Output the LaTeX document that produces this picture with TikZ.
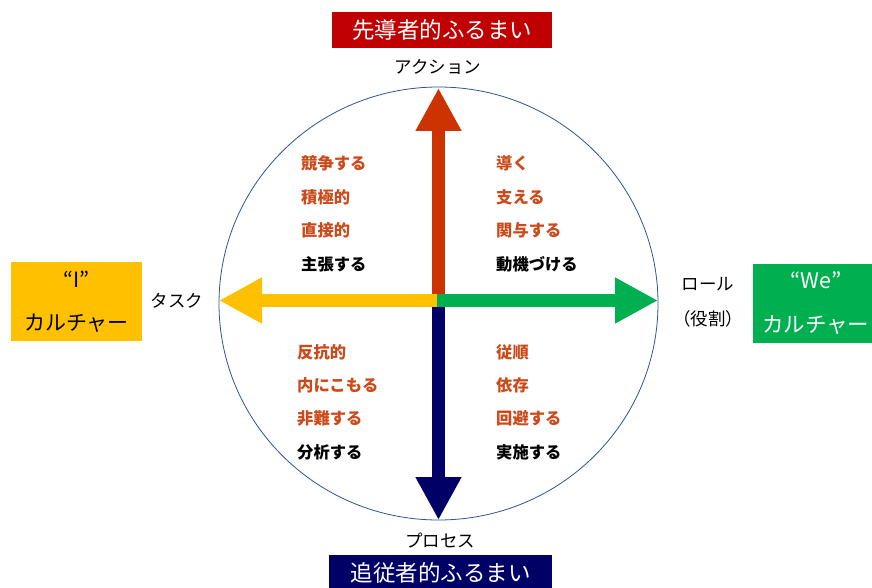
\documentclass[tikz,border=0pt]{standalone}
\usepackage{fontspec}
\setmainfont{Noto Sans CJK JP}
\usetikzlibrary{arrows.meta}
\definecolor{cred}{HTML}{C00000}
\definecolor{carrowred}{HTML}{CC3300}
\definecolor{cnavy}{HTML}{000066}
\definecolor{cyellow}{HTML}{FFC000}
\definecolor{cgreen}{HTML}{00B050}
\definecolor{ctxt}{HTML}{CC4A1A}
\definecolor{ccircle}{HTML}{2F5597}
\begin{document}
\begin{tikzpicture}[x=1pt,y=-1pt,
  bigarrow/.style={line width=13pt,-{Triangle[length=43pt,width=43pt]}},
  lab/.style={font=\fontsize{17.5}{20}\selectfont,text=black,inner sep=0pt},
  item/.style={font=\bfseries\fontsize{16.3}{18}\selectfont,anchor=west,inner sep=0pt},
  hitem/.style={item,text=ctxt},
  kitem/.style={item,text=black},
  titlebox/.style={minimum height=36pt,inner sep=0pt,text=white,font=\fontsize{22.5}{24}\selectfont},
  sidebox/.style={minimum height=79pt,inner sep=0pt,align=center,font=\fontsize{21}{43}\selectfont}]
\useasboundingbox (0,0) rectangle (872,588);
\fill[white] (0,0) rectangle (872,588);
\coordinate (c) at (438.5,300.5);
\draw[ccircle,line width=0.8pt] (438.5,303.5) ellipse [x radius=219.5pt,y radius=216.5pt];
\coordinate (tl) at (219,300.5);
\coordinate (tr) at (658,300.5);
\coordinate (tt) at (438.5,88);
\coordinate (tb) at (438.5,520);
\draw[bigarrow,carrowred] ([yshift=-2pt]c) -- (tt);
\draw[bigarrow,cnavy] ([yshift=2pt]c) -- (tb);
\draw[bigarrow,cyellow] ([xshift=-1.5pt]c) -- (tl);
\draw[bigarrow,cgreen] ([xshift=-1.5pt]c) -- (tr);
% title boxes
\node[titlebox,fill=cred,minimum width=220pt] (top) at (442,30) {先導者的ふるまい};
\node[titlebox,fill=cnavy,minimum width=223pt,anchor=north] (bot) at (440.5,555) {追従者的ふるまい};
\node[lab] (act) at (438,67) {アクション};
\node[lab] (proc) at (440,541) {プロセス};
\node[lab] (task) at (177,301) {タスク};
\node[lab] (role) at (708,284) {ロール};
\node[lab] (role2) at (708,319) {（役割）};
\node[sidebox,fill=cyellow,minimum width=131pt] (ibox) at (76.5,301.5) {“I”\\カルチャー};
\node[sidebox,fill=cgreen,minimum width=125pt,text=white,anchor=west,font=\fontsize{21.5}{44}\selectfont] (webox) at (753,303.5) {“We”\\カルチャー};
% items
\node[hitem] (a1) at (301,163) {競争する};
\node[hitem] (a2) at (301,197) {積極的};
\node[hitem] (a3) at (301,230) {直接的};
\node[kitem] (a4) at (301,264) {主張する};
\node[hitem] (b1) at (496,163) {導く};
\node[hitem] (b2) at (496,197) {支える};
\node[hitem] (b3) at (496,230) {関与する};
\node[kitem] (b4) at (496,264) {動機づける};
\node[hitem] (c1) at (297,352) {反抗的};
\node[hitem] (c2) at (297,385) {内にこもる};
\node[hitem] (c3) at (297,418) {非難する};
\node[kitem] (c4) at (297,452) {分析する};
\node[hitem] (d1) at (496,352) {従順};
\node[hitem] (d2) at (496,385) {依存};
\node[hitem] (d3) at (496,418) {回避する};
\node[kitem] (d4) at (496,452) {実施する};
\end{tikzpicture}
\end{document}
